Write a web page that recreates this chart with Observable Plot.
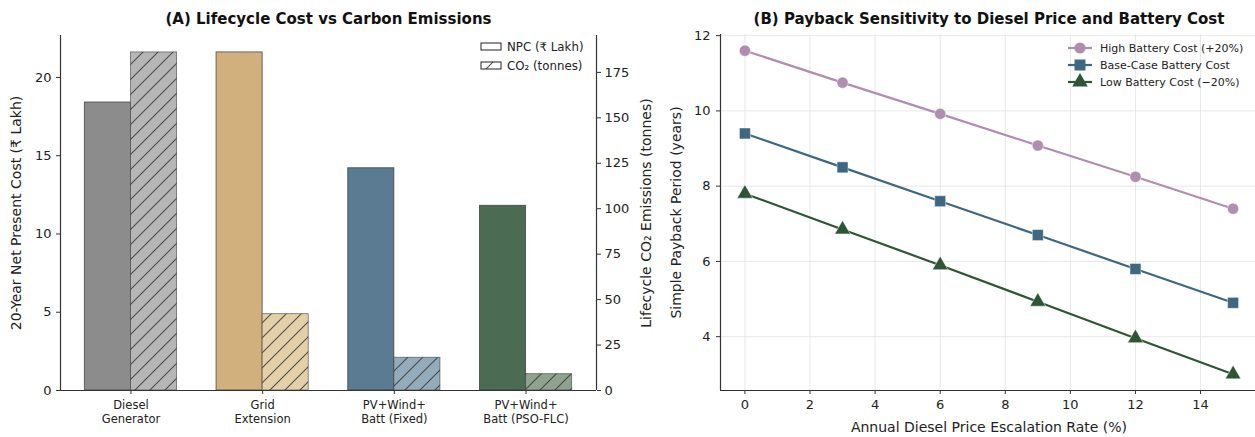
<!DOCTYPE html>
<html><head><meta charset="utf-8">
<script src="https://cdn.jsdelivr.net/npm/d3@7"></script>
<script src="https://cdn.jsdelivr.net/npm/@observablehq/plot@0.6"></script>
<style>
html,body{margin:0;padding:0;background:#fff;overflow:hidden;}
#wrap{position:relative;width:1255px;height:437px;overflow:hidden;font-family:"DejaVu Sans",sans-serif;}
#wrap svg{position:absolute;top:0;overflow:visible;max-width:none!important;}
</style></head><body><div id="wrap"></div>
<script>
// ---- Panel A data ----
const categories = ["Diesel\nGenerator", "Grid\nExtension", "PV+Wind+\nBatt (Fixed)", "PV+Wind+\nBatt (PSO-FLC)"];
const npcValues = [18.4, 21.6, 14.2, 11.8];
const co2Values = [186, 42, 18, 9];
const npcColors = ["#8c8c8c", "#d1b07e", "#5a7b92", "#4b6c53"];
const co2Colors = ["#b6b6b6", "#e3cfa8", "#94abbc", "#8fa290"];
const npcTicks = [0, 5, 10, 15, 20];
const co2Ticks = [0, 25, 50, 75, 100, 125, 150, 175];
const legendA = ["NPC (\u20B9 Lakh)", "CO\u2082 (tonnes)"];

// ---- Panel B data ----
const escalation = [0, 3, 6, 9, 12, 15];
const highBattery = [11.6, 10.75, 9.92, 9.08, 8.25, 7.4];
const baseBattery = [9.4, 8.5, 7.6, 6.7, 5.8, 4.9];
const lowBattery = [7.8, 6.85, 5.9, 4.93, 3.96, 3.0];
const seriesNames = ["High Battery Cost (+20%)", "Base-Case Battery Cost", "Low Battery Cost (\u221220%)"];
const seriesColors = ["#b08eb0", "#3e6882", "#2e5636"];
const seriesSymbols = ["circle", "square", "triangle"];
const seriesR = [5.6, 6.2, 5.8];
const payTicksX = [0, 2, 4, 6, 8, 10, 12, 14];
const payTicksY = [4, 6, 8, 10, 12];

const FONT = "DejaVu Sans, sans-serif";
const wrap = document.getElementById("wrap");

// ================= Panel A =================
const npcMax = d3.max(npcValues) * 1.05;
const co2Max = d3.max(co2Values) * 1.05;
const k = npcMax / co2Max;
const bw = 0.35;
const xDomA = [-bw - 0.185, categories.length - 1 + bw + 0.185];
const bars = categories.map((c, i) => ({i, c, npc: npcValues[i], co2: co2Values[i] * k, nc: npcColors[i], cc: co2Colors[i]}));

const left = Plot.plot({
  width: 660, height: 437,
  marginLeft: 60, marginRight: 64, marginTop: 35, marginBottom: 47,
  x: {domain: xDomA, axis: null},
  y: {domain: [0, npcMax], axis: null},
  color: {type: "identity"},
  style: {fontFamily: FONT, color: "#222", background: "white", overflow: "visible"},
  marks: [
    Plot.rectY(bars, {x1: d => d.i - bw, x2: d => d.i, y1: 0, y2: "npc", fill: "nc", stroke: "#333", strokeOpacity: 0.75, strokeWidth: 0.9}),
    Plot.rectY(bars, {x1: d => d.i, x2: d => d.i + bw, y1: 0, y2: "co2", fill: "cc"}),
    Plot.rectY(bars, {x1: d => d.i, x2: d => d.i + bw, y1: 0, y2: "co2", fill: "url(#hatchA)", stroke: "#333", strokeOpacity: 0.6, strokeWidth: 0.9}),
    Plot.axisY(npcTicks, {anchor: "left", tickSize: 4, tickPadding: 5, fontSize: 13, label: null, stroke: "#333"}),
    Plot.axisY(co2Ticks.map(t => t * k), {anchor: "right", tickFormat: d => Math.round(d / k), tickSize: 4, tickPadding: 4, fontSize: 13, label: null, stroke: "#333"}),
    Plot.axisX(categories.map((c, i) => i), {anchor: "bottom", tickFormat: i => categories[i], tickSize: 4, tickPadding: 5, fontSize: 11.5, lineHeight: 1.22, label: null, stroke: "#333"}),
    Plot.ruleX([xDomA[0], xDomA[1]], {stroke: "#333", strokeWidth: 1.2}),
    Plot.ruleY([0], {stroke: "#333", strokeWidth: 1.2}),
    Plot.text(["(A) Lifecycle Cost vs Carbon Emissions"], {text: d => d, frameAnchor: "top", dy: -16, lineAnchor: "middle", textAnchor: "middle", fontSize: 15, fontWeight: "bold", fill: "#111"}),
    Plot.text(["20-Year Net Present Cost (\u20B9 Lakh)"], {text: d => d, frameAnchor: "left", rotate: -90, dx: -44, lineAnchor: "middle", textAnchor: "middle", fontSize: 14, fill: "#222"}),
    Plot.text(["Lifecycle CO\u2082 Emissions (tonnes)"], {text: d => d, frameAnchor: "right", rotate: -90, dx: 50, lineAnchor: "middle", textAnchor: "middle", fontSize: 14, fill: "#222"})
  ]
});
left.style.left = "0px";
wrap.appendChild(left);
{
  const svg = d3.select(left);
  const defs = svg.insert("defs", ":first-child");
  const p = defs.append("pattern").attr("id", "hatchA").attr("patternUnits", "userSpaceOnUse")
    .attr("width", 15).attr("height", 15);
  p.append("path").attr("d", "M0,15 L15,0 M-3,3 L3,-3 M12,18 L18,12")
    .attr("stroke", "#3a3a3a").attr("stroke-opacity", 0.85).attr("stroke-width", 1.1).attr("fill", "none");
  const lg = svg.append("g").attr("font-family", FONT).attr("font-size", 11.8).attr("fill", "#222").attr("text-anchor", "start");
  legendA.forEach((t, i) => {
    const y = 43 + i * 19;
    lg.append("rect").attr("x", 481).attr("y", y).attr("width", 20).attr("height", 7)
      .attr("fill", i ? "url(#hatchA)" : "white").attr("stroke", "#222").attr("stroke-width", 1);
    lg.append("text").attr("x", 507).attr("y", y + 3.5).attr("dy", "0.35em").text(t);
  });
}

// ================= Panel B =================
const allSeries = [highBattery, baseBattery, lowBattery];
const rows = seriesNames.flatMap((s, j) => escalation.map((x, i) => ({s, j, x, y: allSeries[j][i]})));
const yAll = rows.map(d => d.y);
const yMin = d3.min(yAll), yMax = d3.max(yAll), yPad = (yMax - yMin) * 0.05;
const xPad = (d3.max(escalation) - d3.min(escalation)) * 0.05;
const xDomB = [d3.min(escalation) - xPad, d3.max(escalation) + xPad];
const yDomB = [yMin - yPad, yMax + yPad];

const right = Plot.plot({
  width: 597, height: 437,
  marginLeft: 60, marginRight: 0, marginTop: 34, marginBottom: 47,
  x: {domain: xDomB, axis: null},
  y: {domain: yDomB, axis: null},
  style: {fontFamily: FONT, color: "#222", background: "white", overflow: "visible"},
  marks: [
    Plot.gridX(payTicksX, {stroke: "#e2e2e2", strokeOpacity: 1, strokeWidth: 0.8}),
    Plot.gridY(payTicksY, {stroke: "#e2e2e2", strokeOpacity: 1, strokeWidth: 0.8}),
    Plot.axisX(payTicksX, {anchor: "bottom", tickSize: 4, tickPadding: 5, fontSize: 13, label: null, stroke: "#333"}),
    Plot.axisY(payTicksY, {anchor: "left", tickSize: 4, tickPadding: 6, fontSize: 13, label: null, stroke: "#333"}),
    Plot.ruleX([xDomB[0]], {stroke: "#333", strokeWidth: 1.2}),
    Plot.ruleY([yDomB[0]], {stroke: "#333", strokeWidth: 1.2}),
    ...seriesNames.map((s, j) => Plot.line(rows.filter(d => d.j === j), {x: "x", y: "y", stroke: seriesColors[j], strokeWidth: 2.2})),
    ...seriesNames.map((s, j) => Plot.dot(rows.filter(d => d.j === j), {x: "x", y: "y", symbol: seriesSymbols[j], r: seriesR[j], fill: seriesColors[j], stroke: "white", strokeOpacity: 0.6, strokeWidth: 0.8})),
    Plot.text(["(B) Payback Sensitivity to Diesel Price and Battery Cost"], {text: d => d, frameAnchor: "top", dy: -15, lineAnchor: "middle", textAnchor: "middle", fontSize: 15, fontWeight: "bold", fill: "#111"}),
    Plot.text(["Simple Payback Period (years)"], {text: d => d, frameAnchor: "left", rotate: -90, dx: -44, lineAnchor: "middle", textAnchor: "middle", fontSize: 14, fill: "#222"}),
    Plot.text(["Annual Diesel Price Escalation Rate (%)"], {text: d => d, frameAnchor: "bottom", dy: 37, lineAnchor: "middle", textAnchor: "middle", fontSize: 14, fill: "#222"})
  ]
});
right.style.left = "660px";
wrap.appendChild(right);
{
  const svg = d3.select(right);
  const lg = svg.append("g").attr("font-family", FONT).attr("font-size", 11).attr("fill", "#222").attr("text-anchor", "start");
  const sym = {circle: d3.symbolCircle, square: d3.symbolSquare, triangle: d3.symbolTriangle};
  seriesNames.forEach((t, j) => {
    const y = 48 + j * 17;
    lg.append("line").attr("x1", 408).attr("x2", 432).attr("y1", y).attr("y2", y)
      .attr("stroke", seriesColors[j]).attr("stroke-width", 2.2);
    lg.append("path").attr("transform", `translate(420,${y})`)
      .attr("d", d3.symbol(sym[seriesSymbols[j]], seriesR[j] * seriesR[j] * Math.PI)())
      .attr("fill", seriesColors[j]);
    lg.append("text").attr("x", 440).attr("y", y).attr("dy", "0.35em").text(t);
  });
}
</script></body></html>
